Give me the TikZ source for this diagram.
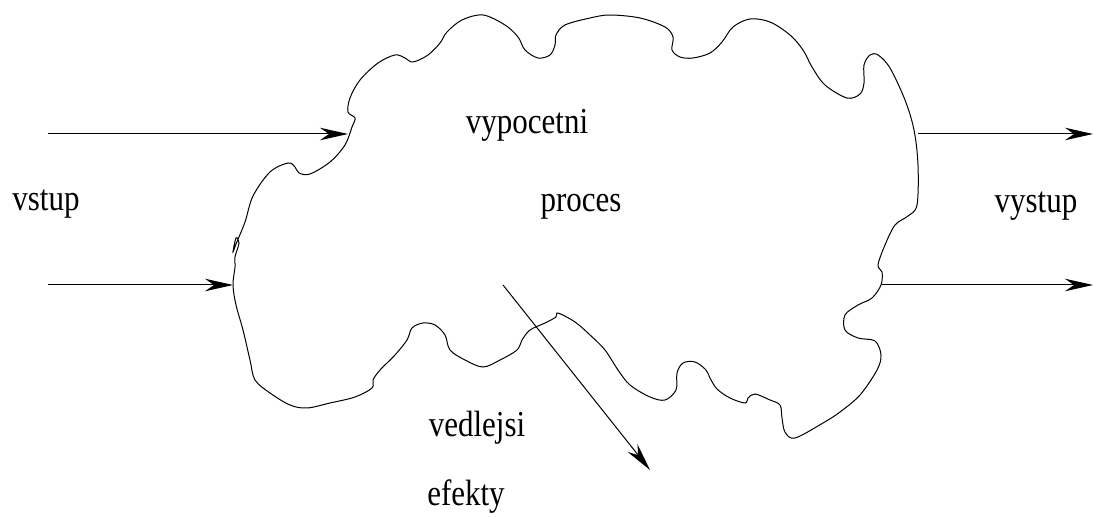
\documentclass[tikz,border=0pt]{standalone}
\usepackage{fontspec}
\setmainfont{Liberation Serif}
\usetikzlibrary{arrows.meta}
\tikzset{
  flow/.style={line width=1pt,-{Stealth[length=28pt,width=12.5pt,inset=9pt]}},
  outline/.style={line width=1pt},
  label/.style={inner sep=0pt,anchor=base,font=\fontsize{31}{37}\selectfont}
}
\newcommand{\tallword}[1]{\scalebox{1}[1.18]{#1}}
\begin{document}
\begin{tikzpicture}[x=1pt,y=-1pt]
\useasboundingbox (0,0) rectangle (1093,518);

% the irregular outline of the process
\draw[outline] plot[smooth cycle,tension=0.55] coordinates {
 (233,285) (235,267) (235,257) (239,243) (236,238) (233,252) (236,244)
 (245,222) (253,196) (270,172) (288,163) (295,167) (299,173) (310,174)
 (330,162) (345,145) (352,127) (355,118) (348,112) (350,98) (360,80)
 (378,63) (395,55) (405,58) (413,62) (428,55) (440,43) (447,32) (462,20)
 (483,15) (505,25) (518,37) (525,50) (538,58) (550,55) (555,45) (556,35)
 (565,25) (590,18) (610,15) (640,18) (665,27) (673,37) (672,50) (680,57)
 (693,58) (710,53) (722,42) (733,27) (750,19) (770,22) (790,35) (803,50)
 (812,67) (825,85) (847,98) (860,94) (864,83) (864,65) (870,55) (878,55)
 (890,68) (905,100) (914,130) (918,165) (917,205) (908,216) (895,225)
 (885,245) (878,265) (882,272) (881,285) (872,298) (858,305) (845,315)
 (845,330) (858,338) (875,341) (881,355) (877,370) (860,395) (840,412)
 (823,423) (795,438) (785,432) (782,418) (780,405) (770,400) (755,394)
 (748,398) (745,403) (730,398) (717,389) (710,378) (706,370) (695,362)
 (683,363) (677,373) (676,390) (665,400) (650,397) (630,385) (618,370)
 (605,350) (590,335) (575,322) (558,313) (556,317) (545,323) (530,330)
 (522,340) (517,350) (500,360) (483,367) (465,360) (450,350) (445,335)
 (435,325) (423,323) (412,328) (407,340) (395,355) (380,370) (373,380)
 (372,388) (355,397) (330,403) (307,408) (290,405) (270,393) (255,380)
 (250,360) (243,330) (236,305)
};

% arrow end points
\coordinate (inAsrc) at (48,134);
\coordinate (inA) at (348,134);
\coordinate (inBsrc) at (48,285);
\coordinate (inB) at (233,285);
\coordinate (outAsrc) at (918,134);
\coordinate (outA) at (1093,134);
\coordinate (outBsrc) at (882,285);
\coordinate (outB) at (1093,285);
\coordinate (sideSrc) at (503,285);
\coordinate (sideDst) at (650,470);

\draw[flow] (inAsrc) -- (inA);
\draw[flow] (inBsrc) -- (inB);
\draw[flow] (outAsrc) -- (outA);
\draw[flow] (outBsrc) -- (outB);
\draw[flow] (sideSrc) -- (sideDst);

% labels
\node[label] (vstup) at (46,211) {\tallword{vstup}};
\node[label] (vypocetni) at (527,134) {\tallword{vypocetni}};
\node[label] (proces) at (581,212) {\tallword{proces}};
\node[label] (vystup) at (1036,213) {\tallword{vystup}};
\node[label] (vedlejsi) at (477,437) {\tallword{vedlejsi}};
\node[label] (efekty) at (466,505) {\tallword{efekty}};
\end{tikzpicture}
\end{document}
